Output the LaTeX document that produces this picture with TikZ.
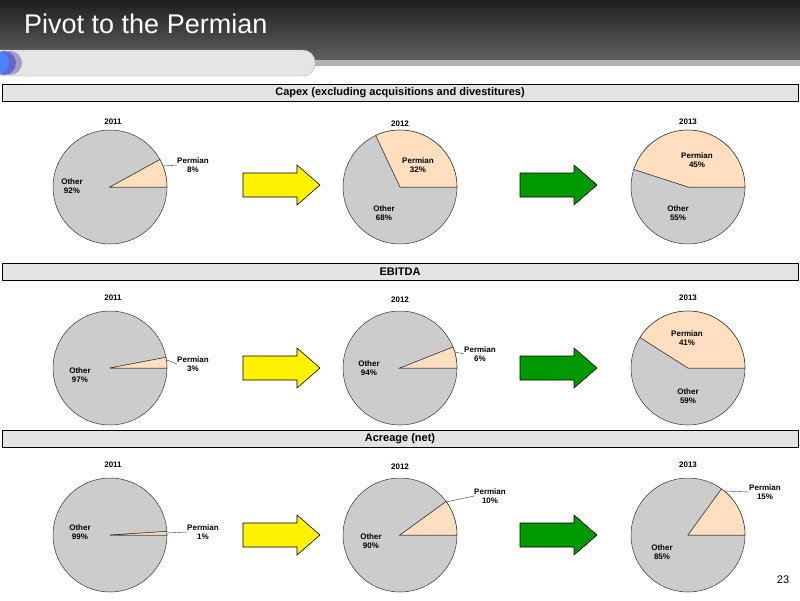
\documentclass[tikz,border=0pt]{standalone}
\usepackage{fontspec}
\setmainfont{Liberation Sans}
\begin{document}
\begin{tikzpicture}[x=1pt,y=-1pt,
  oth/.style={fill=gray!40,draw=black!80,line width=0.5pt},
  perm/.style={fill=orange!25,draw=black!80,line width=0.5pt},
  lbl/.style={font=\bfseries\fontsize{8}{9}\selectfont,align=center,inner sep=0pt},
  yr/.style={font=\bfseries\fontsize{8}{9}\selectfont,inner sep=0pt},
  bar/.style={draw=black,line width=0.8pt,fill=gray!22,minimum width=796pt,minimum height=17pt,inner sep=0pt,font=\bfseries\fontsize{11}{13}\selectfont},
  arr/.style={draw=black,line width=0.6pt}]
\useasboundingbox (0,0) rectangle (800,600);
\fill[top color=black!88,bottom color=black!62] (0,0) rectangle (800,60);
\fill[white] (0,60) rectangle (800,80);
\fill[gray!60] (300,60) rectangle (800,66);
\fill[gray!20,draw=gray!60,rounded corners=12pt] (-20,50) rectangle (315,76);
\fill[blue!25!gray!60] (10,63) circle (12);
\fill[blue!50!gray!80] (4,63) circle (12);
\fill[blue!70!cyan!70] (-3,63) circle (12);
\node[anchor=west,text=white,font=\fontsize{27}{30}\selectfont,inner sep=0pt] (title) at (24,24) {Pivot to the Permian};
\node[bar] (b1) at (400,92.5) {Capex (excluding acquisitions and divestitures)};
\node[bar] (b2) at (400,271.5) {EBITDA};
\node[bar] (b3) at (400,438.5) {Acreage (net)};
\newcommand\mypie[3]{%
  \fill[oth] (#1,#2) -- ++(0:57) arc[start angle=0,end angle=-360+#3,radius=57] -- cycle;
  \fill[perm] (#1,#2) -- ++(0:57) arc[start angle=0,end angle=#3,radius=57] -- cycle;}
\newcommand\myarrow[3]{%
  \filldraw[arr,fill=#3] (#1,#2-12) -- ++(54,0) -- ++(0,-8) -- (#1+77,#2) -- (#1+54,#2+20) -- ++(0,-8) -- (#1,#2+12) -- cycle;}
\mypie{110}{187}{-28.8}
\mypie{400}{187}{-115.2}
\mypie{688}{187}{-162}
\mypie{110}{368}{-10.8}
\mypie{400}{368}{-21.6}
\mypie{688}{368}{-147.6}
\mypie{110}{535}{-3.6}
\mypie{400}{535}{-36}
\mypie{688}{535}{-54}
\foreach \y/\n in {122/a,298/b,465/c}{
 \node[yr] (y1\n) at (113,\y) {2011};
 \node[yr] (y2\n) at (400,\y+2) {2012};
 \node[yr] (y3\n) at (688,\y) {2013};}
\foreach \y in {185,368,535}{
 \myarrow{243}{\y}{yellow}
 \myarrow{520}{\y}{green!60!black}}
\node[lbl] (o1) at (72,186) {Other\\92\%};
\node[lbl] (p1) at (193,165) {Permian\\8\%};
\draw[black!80,line width=0.4pt] (p1.west) -- (163,166);
\node[lbl] (o2) at (384,213) {Other\\68\%};
\node[lbl] (p2) at (418,165) {Permian\\32\%};
\node[lbl] (o3) at (678,213) {Other\\55\%};
\node[lbl] (p3) at (697,160) {Permian\\45\%};
\node[lbl] (o4) at (80,375) {Other\\97\%};
\node[lbl] (p4) at (193,364) {Permian\\3\%};
\draw[black!80,line width=0.4pt] (p4.west) -- (167,360);
\node[lbl] (o5) at (369,368) {Other\\94\%};
\node[lbl] (p5) at (480,354) {Permian\\6\%};
\draw[black!80,line width=0.4pt] (p5.west) -- (455,352);
\node[lbl] (o6) at (688,396) {Other\\59\%};
\node[lbl] (p6) at (687,338) {Permian\\41\%};
\node[lbl] (o7) at (80,532) {Other\\99\%};
\node[lbl] (p7) at (203,532) {Permian\\1\%};
\draw[black!80,line width=0.4pt] (p7.west) -- (167,533);
\node[lbl] (o8) at (371,541) {Other\\90\%};
\node[lbl] (p8) at (490,496) {Permian\\10\%};
\draw[black!80,line width=0.4pt] (p8.west) -- (446,502);
\node[lbl] (o9) at (662,552) {Other\\85\%};
\node[lbl] (p9) at (765,492) {Permian\\15\%};
\draw[black!80,line width=0.4pt] (p9.west) -- (724,491);
\node[font=\fontsize{11}{13}\selectfont,inner sep=0pt] (pg) at (783,580) {23};
\end{tikzpicture}
\end{document}
